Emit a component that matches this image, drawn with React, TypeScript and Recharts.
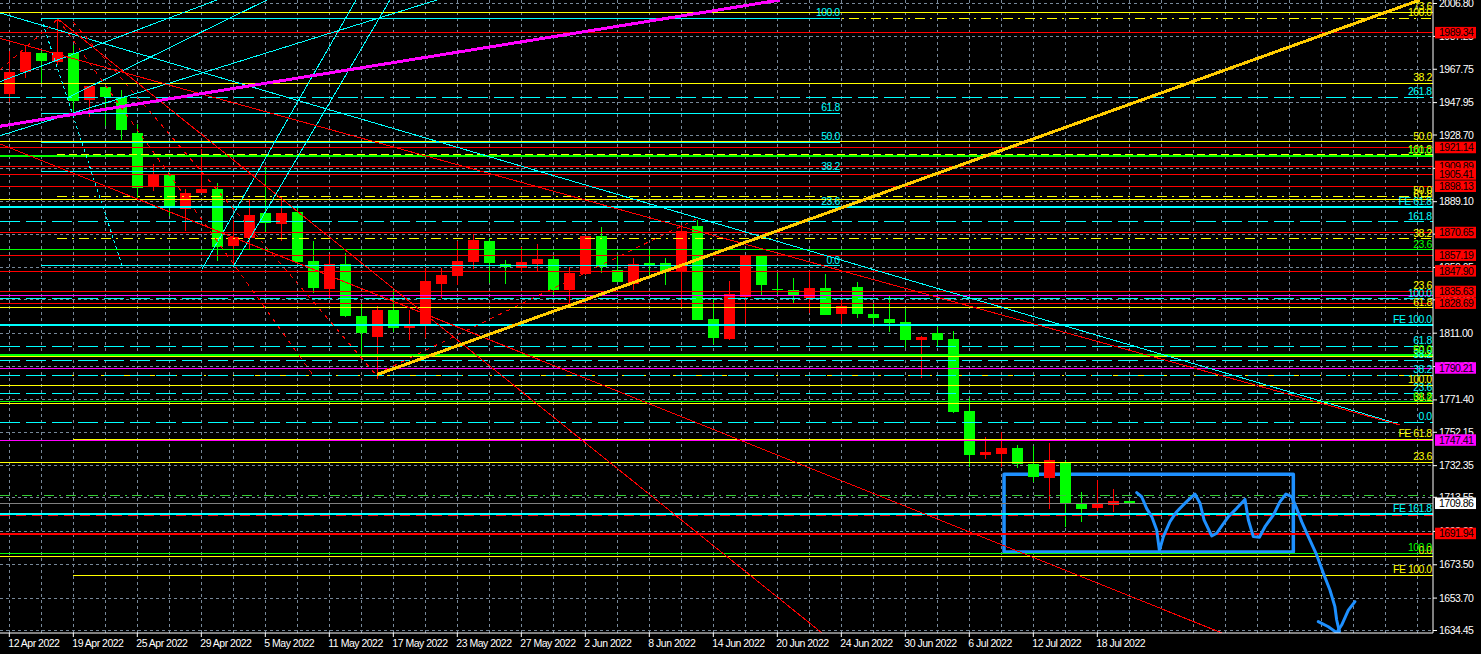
import {
  Bar,
  CartesianGrid,
  ComposedChart,
  Line,
  ReferenceArea,
  ReferenceDot,
  ReferenceLine,
  XAxis,
  YAxis,
} from "recharts";

const CHART_W = 1481;
const CHART_H = 654;
const FONT = "'Liberation Sans', sans-serif";
const FONT_SIZE = 10.5;
const TRACKING = -0.5;

const RED = "#ff0000";
const GREEN = "#00ff00";
const CYAN = "#00ffff";
const YELLOW = "#ffff00";
const MAGENTA = "#ff00ff";
const BLUE = "#1e90ff";
const GOLD = "#ffcc00";
const GRID = "#778899";

// candles, newest last
const opens = [
  1953.1, 1966.3, 1977.4, 1972.2, 1977.4, 1949.5, 1957.2, 1951.1, 1929.9, 1897.8, 1904.9, 1884.8,
  1894.3, 1896.6, 1862.8, 1867.4, 1882.4, 1875.9, 1883.0, 1853.9, 1837.3, 1852.1, 1821.2, 1808.5,
  1824.8, 1814.1, 1816.5, 1840.2, 1845.0, 1853.3, 1865.8, 1852.1, 1849.7, 1852.1, 1855.1, 1836.7,
  1846.2, 1868.7, 1848.5, 1840.2, 1852.4, 1852.7, 1847.3, 1874.7, 1819.4, 1807.6, 1832.5, 1856.8,
  1837.3, 1836.7, 1831.9, 1837.8, 1822.4, 1838.4, 1822.4, 1819.4, 1817.7, 1807.0, 1811.1, 1807.6,
  1764.8, 1738.7, 1739.3, 1742.8, 1733.3, 1725.0, 1733.9, 1710.2, 1707.2, 1709.0, 1711.3,
];
const closes = [
  1966.1, 1978.0, 1972.7, 1978.0, 1948.9, 1957.8, 1951.1, 1931.7, 1897.2, 1905.4, 1886.5, 1894.3,
  1896.6, 1862.2, 1868.1, 1881.2, 1876.5, 1882.4, 1853.3, 1837.8, 1852.1, 1821.2, 1811.1, 1824.8,
  1814.1, 1815.3, 1842.0, 1845.6, 1853.9, 1866.4, 1852.7, 1850.1, 1853.3, 1855.1, 1836.7, 1846.8,
  1868.7, 1850.1, 1841.4, 1852.1, 1851.8, 1847.5, 1871.7, 1818.8, 1808.2, 1834.3, 1857.2, 1839.6,
  1836.7, 1833.7, 1837.8, 1821.8, 1827.2, 1822.4, 1820.0, 1817.1, 1807.0, 1808.8, 1807.0, 1764.2,
  1738.7, 1740.5, 1742.8, 1733.3, 1725.6, 1735.7, 1709.6, 1706.6, 1709.6, 1711.3, 1709.6,
];
const highs = [
  1978.6, 1982.0, 1978.6, 1997.6, 1982.2, 1957.8, 1957.2, 1955.4, 1935.2, 1911.5, 1906.1, 1896.6,
  1920.4, 1900.2, 1878.2, 1890.1, 1909.7, 1891.9, 1885.4, 1865.8, 1858.0, 1858.6, 1828.3, 1827.2,
  1836.7, 1824.8, 1849.7, 1849.7, 1865.8, 1869.9, 1867.5, 1854.5, 1862.2, 1864.0, 1856.8, 1850.3,
  1868.7, 1874.1, 1858.0, 1855.7, 1860.4, 1855.7, 1875.3, 1878.2, 1831.9, 1842.0, 1857.4, 1856.8,
  1846.8, 1843.8, 1847.3, 1846.2, 1830.7, 1841.4, 1828.9, 1833.1, 1825.4, 1809.3, 1814.7, 1812.3,
  1772.5, 1749.4, 1752.3, 1744.6, 1744.0, 1745.8, 1735.7, 1716.7, 1723.8, 1718.5, 1711.3,
];
const lows = [
  1948.5, 1962.6, 1959.4, 1970.3, 1941.8, 1939.4, 1934.1, 1925.7, 1890.7, 1895.4, 1880.6, 1871.7,
  1894.3, 1853.9, 1849.7, 1861.0, 1871.1, 1865.8, 1852.7, 1834.9, 1831.9, 1820.6, 1795.1, 1783.8,
  1811.7, 1807.0, 1808.2, 1831.9, 1839.6, 1849.1, 1840.8, 1840.2, 1847.3, 1847.3, 1833.7, 1827.8,
  1845.6, 1846.8, 1841.4, 1836.7, 1844.4, 1839.6, 1826.0, 1818.8, 1804.6, 1807.0, 1816.5, 1833.7,
  1834.3, 1828.9, 1823.0, 1821.8, 1816.5, 1820.0, 1816.5, 1811.7, 1802.2, 1784.4, 1802.8, 1763.6,
  1731.5, 1736.3, 1731.5, 1730.9, 1722.6, 1706.6, 1695.9, 1698.9, 1705.4, 1704.8, 1709.6,
];

const candles = opens.map((open, i) => ({
  i,
  open,
  close: closes[i],
  range: [lows[i], highs[i]],
}));

// axes
const priceTicks = [
  2006.8, 1987.25, 1967.75, 1947.95, 1928.7, 1908.9, 1889.1, 1869.85, 1850.05, 1830.8, 1811.0,
  1791.2, 1771.4, 1752.15, 1732.35, 1713.55, 1693.3, 1673.5, 1653.7, 1634.45,
];
const dateLabels = [
  "12 Apr 2022", "19 Apr 2022", "25 Apr 2022", "29 Apr 2022", "5 May 2022", "11 May 2022",
  "17 May 2022", "23 May 2022", "27 May 2022", "2 Jun 2022", "8 Jun 2022", "14 Jun 2022",
  "20 Jun 2022", "24 Jun 2022", "30 Jun 2022", "6 Jul 2022", "12 Jul 2022", "18 Jul 2022",
];
const dateTicks = [0, 4, 8, 12, 16, 20, 24, 28, 32, 36, 40, 44, 48, 52, 56, 60, 64, 68];
const gridBars = [
  0, 2, 4, 6, 8, 10, 12, 14, 16, 18, 20, 22, 24, 26, 28, 30, 32, 34, 36, 38, 40, 42, 44, 46, 48,
  50, 52, 54, 56, 58, 60, 62, 64, 66, 68, 70, 72, 74, 76, 78, 80, 82, 84, 86, 88,
];

// price tags on the axis
const redTags = [
  1989.34, 1921.14, 1909.89, 1905.41, 1898.13, 1870.65, 1857.19, 1847.9, 1835.63, 1828.69, 1691.94,
];
const magentaTags = [1790.21, 1747.41];
const currentPrice = 1709.86;

// horizontal levels
const redLevels = [1989.34, 1921.14, 1909.89, 1905.41, 1898.13, 1870.65, 1857.19, 1847.9, 1835.63, 1828.69];
const redHeavyLevels = [1691.94];
const redDashedLevels = [1702.8];
const yellowLevels = [2001.6, 1959.3, 1924.8, 1890.4, 1826.0, 1797.3, 1780.0, 1769.4, 1734.3, 1678.5];
const yellowDashedLevels = [1998.0, 1892.2, 1867.2, 1835.8, 1786.0];
const yellowHeavyDashedLevels = [1917.1];
const yellowLateLevels = [1747.9, 1667.2];
const magentaLevels = [1833.4, 1790.21, 1747.41];
const cyanHeavyLevels = [1885.95, 1815.9, 1703.6];
const cyanDashedLevels = [1951.0, 1877.3, 1831.6, 1803.2, 1794.8, 1786.0, 1775.3, 1758.1];
const cyanShortLevels = [1998.0, 1941.5, 1924.5, 1906.9, 1851.2];
const limeLevels = [1916.2, 1798.2];
const greenLevels = [1860.7, 1770.3, 1680.3];
const greenDashedLevels = [1714.8];

// level captions: [price, text]
const yellowCaptions: [number, string][] = [
  [2001.6, "73.6"], [1998.0, "100.0"], [1959.3, "38.2"], [1924.8, "50.0"], [1917.1, "161.8"],
  [1892.2, "50.0"], [1890.4, "61.8"], [1867.2, "38.2"], [1835.8, "23.6"], [1826.0, "61.8"],
  [1797.3, "50.0"], [1780.0, "100.0"], [1769.4, "38.2"], [1747.9, "FE 61.8"], [1734.3, "23.6"],
  [1678.5, "0.0"], [1667.2, "FE 100.0"],
];
const cyanCaptions: [number, string][] = [
  [1951.0, "261.8"], [1885.95, "FE 61.8"], [1877.3, "161.8"], [1831.6, "100.0"],
  [1815.9, "FE 100.0"], [1803.2, "61.8"], [1794.8, "38.2"], [1786.0, "38.2"], [1775.3, "23.6"],
  [1758.1, "0.0"], [1703.6, "FE 161.8"],
];
const greenCaptions: [number, string][] = [
  [1916.2, "100.0"], [1860.7, "23.6"], [1798.2, "50.0"], [1770.3, "61.8"], [1680.3, "100.0"],
];
const midCaptions: [number, string][] = [
  [1998.0, "100.0"], [1941.5, "61.8"], [1924.5, "50.0"], [1906.9, "38.2"], [1885.95, "23.6"], [1851.2, "0.0"],
];

// trend lines: bar index and price at both ends
type Seg = [number, number, number, number];
const cyanTrends: Seg[] = [
  [-0.583, 2001.2, 86.42, 1758.3],
  [-0.583, 1960.4, 12.98, 2008.9],
  [3.6, 1950.7, 16.1, 2008.9],
  [-0.583, 1928.3, 26.73, 2008.9],
  [12.04, 1849.1, 21.67, 2008.9],
  [13.98, 1850.3, 23.79, 2008.9],
];
const cyanDotted: Seg[] = [[1.98, 1998.2, 7.04, 1851.5]];
const redTrends: Seg[] = [
  [-0.583, 1986.1, 86.92, 1756.5],
  [-0.583, 1923.4, 75.79, 1633.0],
  [3.04, 1997.6, 50.79, 1633.0],
];
const redDotted: Seg[] = [
  [3.04, 1997.6, 18.98, 1786.2],
  [3.98, 1995.8, 22.98, 1785.6],
  [-0.583, 1967.3, 3.04, 1997.6],
  [22.98, 1786.8, 43.04, 1879.4],
];
const magentaTrend: Seg = [-0.583, 1933.9, 48.17, 2008.9];
const goldTrend: Seg = [22.98, 1786.4, 88.17, 2008.9];

// hand drawn scribble
const scribble = [
  [70.46, 1716.3], [70.77, 1713.9], [71.08, 1707.0], [71.4, 1702.1], [71.71, 1694.1], [71.88, 1681.9],
  [72.13, 1690.2], [72.54, 1699.1], [72.96, 1705.0], [73.58, 1711.0], [74.1, 1715.5], [74.42, 1710.0],
  [74.67, 1700.1], [75.15, 1690.6], [75.46, 1692.2], [76.19, 1702.1], [76.71, 1707.0], [77.23, 1712.3],
  [77.44, 1700.1], [77.75, 1690.2], [78.13, 1689.8], [78.48, 1696.1], [79.0, 1703.0], [79.42, 1711.0],
  [79.79, 1715.5], [80.15, 1713.9], [80.46, 1707.0], [80.77, 1699.1], [81.19, 1690.2], [81.71, 1679.3],
  [82.13, 1668.4], [82.54, 1658.5], [82.85, 1648.6], [82.96, 1640.7], [83.13, 1633.8],
].map(([i, p]) => ({ i, p }));
const arrowHead = [
  [81.81, 1639.7], [82.44, 1636.7], [82.96, 1633.2], [83.27, 1637.7], [83.69, 1646.6], [84.1, 1651.6],
].map(([i, p]) => ({ i, p }));
const boxBars = [62.17, 80.25];
const boxPrices = [1681.1, 1727.2];

const X_DOMAIN: [number, number] = [-0.583, 88.98];
const Y_DOMAIN: [number, number] = [1632.97, 2008.88];
const CAPTION_RIGHT = 88.9;
const CAPTION_MID = 51.9;
const LATE_START = 4;
const DASH_START = 3;
const SHORT_START = 2;

const Candle = (props: any) => {
  const { x, y, width, height, payload } = props;
  const [low, high] = payload.range;
  const up = payload.close >= payload.open;
  const color = up ? RED : GREEN;
  const cx = Math.round(x + width / 2);
  const toY = (v: number) => y + ((high - v) / (high - low)) * height;
  const top = toY(Math.max(payload.open, payload.close));
  const bottom = toY(Math.min(payload.open, payload.close));
  return (
    <g shapeRendering="crispEdges">
      <line x1={cx + 0.5} x2={cx + 0.5} y1={y} y2={y + height} stroke={color} />
      <rect x={cx - 5} y={top} width={11} height={Math.max(bottom - top, 1)} fill={color} />
    </g>
  );
};

const PriceTick = (props: any) => {
  const { y, payload } = props;
  const v = payload.value;
  const isRed = redTags.includes(v);
  const isMagenta = magentaTags.includes(v);
  const isCurrent = v === currentPrice;
  if (isRed || isMagenta || isCurrent) {
    const bg = isRed ? RED : isMagenta ? MAGENTA : "#ffffff";
    return (
      <g>
        <rect x={1435} y={y - 6} width={41} height={11.5} fill={bg} />
        <text x={1439} y={y + 3.5} fontSize={FONT_SIZE} letterSpacing={TRACKING} fontFamily={FONT} fill="#000000">
          {v.toFixed(2)}
        </text>
      </g>
    );
  }
  return (
    <g>
      <line x1={1433} x2={1437} y1={y} y2={y} stroke="#ffffff" />
      <text x={1439} y={y + 3.5} fontSize={FONT_SIZE} letterSpacing={TRACKING} fontFamily={FONT} fill="#ffffff">
        {v.toFixed(2)}
      </text>
    </g>
  );
};

const DateTick = (props: any) => {
  const { x, payload } = props;
  return (
    <g>
      <line x1={x} x2={x} y1={633} y2={637} stroke="#ffffff" />
      <text x={x - 1} y={647} fontSize={FONT_SIZE} letterSpacing={TRACKING} fontFamily={FONT} fill="#ffffff">
        {dateLabels[dateTicks.indexOf(payload.value)]}
      </text>
    </g>
  );
};

const hLines = (levels: number[], stroke: string, width = 1, dash?: string, start?: number, end?: number) =>
  levels.map((p) => (
    <ReferenceLine
      key={`${stroke}-${p}-${width}-${start}`}
      segment={[
        { x: start ?? X_DOMAIN[0], y: p },
        { x: end ?? X_DOMAIN[1], y: p },
      ]}
      stroke={stroke}
      strokeWidth={width}
      strokeDasharray={dash}
      shapeRendering="crispEdges"
      ifOverflow="hidden"
    />
  ));

const trends = (segs: Seg[], stroke: string, width = 1, dash?: string) =>
  segs.map(([x1, y1, x2, y2]) => (
    <ReferenceLine
      key={`${stroke}-${x1}-${y1}-${x2}`}
      segment={[
        { x: x1, y: y1 },
        { x: x2, y: y2 },
      ]}
      stroke={stroke}
      strokeWidth={width}
      strokeDasharray={dash}
      shapeRendering="crispEdges"
      ifOverflow="hidden"
    />
  ));

const captions = (items: [number, string][], fill: string, at: number) =>
  items.map(([p, text]) => (
    <ReferenceDot
      key={`${fill}-${at}-${p}-${text}`}
      x={at}
      y={p}
      r={0}
      ifOverflow="visible"
      shape={(s: any) => (
        <text x={s.cx} y={s.cy - 2} textAnchor="end" fontSize={FONT_SIZE} letterSpacing={TRACKING} fontFamily={FONT} fill={fill}>
          {text}
        </text>
      )}
    />
  ));

export default function App() {
  return (
    <div style={{ position: "absolute", left: 0, top: 0, width: CHART_W, height: CHART_H, background: "#000000" }}>
      <ComposedChart
        width={CHART_W}
        height={CHART_H}
        data={candles}
        margin={{ top: 0, right: 0, bottom: 0, left: 0 }}
      >
        <CartesianGrid
          stroke={GRID}
          strokeDasharray="3 3"
          horizontalValues={priceTicks}
          verticalValues={gridBars}
          shapeRendering="crispEdges"
        />
        <XAxis
          dataKey="i"
          type="number"
          domain={X_DOMAIN}
          allowDataOverflow
          ticks={dateTicks}
          interval={0}
          height={21}
          axisLine={{ stroke: "#ffffff" }}
          tickLine={false}
          tick={<DateTick />}
        />
        <YAxis
          orientation="right"
          type="number"
          domain={Y_DOMAIN}
          allowDataOverflow
          ticks={[...priceTicks, ...redTags, ...magentaTags, currentPrice]}
          interval={0}
          width={48}
          axisLine={{ stroke: "#ffffff" }}
          tickLine={false}
          tick={<PriceTick />}
        />
        <Bar dataKey="range" barSize={11} shape={<Candle />} isAnimationActive={false} />

        {hLines(yellowLevels, YELLOW)}
        {hLines(yellowDashedLevels, YELLOW, 1, "10 5 2 5", DASH_START)}
        {hLines(yellowHeavyDashedLevels, YELLOW, 2, "8 4", DASH_START)}
        {hLines(yellowLateLevels, YELLOW, 1, undefined, LATE_START)}
        {hLines(cyanDashedLevels, CYAN, 1, "20 6")}
        {hLines(cyanShortLevels, CYAN, 1, undefined, SHORT_START, CAPTION_MID)}
        {hLines(cyanHeavyLevels, CYAN, 2)}
        {hLines(redLevels, RED)}
        {hLines(redHeavyLevels, RED, 2)}
        {hLines(redDashedLevels, RED, 1, "10 6")}
        {hLines(magentaLevels, MAGENTA)}
        {hLines(limeLevels, GREEN, 2)}
        {hLines(greenLevels, GREEN)}
        {hLines(greenDashedLevels, "#33cc33", 1, "10 5 2 5")}
        {hLines([currentPrice], "#808080")}

        {trends(cyanTrends, CYAN)}
        {trends(cyanDotted, CYAN, 1, "3 3")}
        {trends(redTrends, RED)}
        {trends(redDotted, RED, 1, "4 5")}
        {trends([magentaTrend], MAGENTA, 3)}
        {trends([goldTrend], GOLD, 3)}

        {captions(yellowCaptions, YELLOW, CAPTION_RIGHT)}
        {captions(cyanCaptions, CYAN, CAPTION_RIGHT)}
        {captions(greenCaptions, GREEN, CAPTION_RIGHT)}
        {captions(midCaptions, CYAN, CAPTION_MID)}

        <ReferenceArea
          x1={boxBars[0]}
          x2={boxBars[1]}
          y1={boxPrices[0]}
          y2={boxPrices[1]}
          fill="none"
          stroke={BLUE}
          strokeWidth={3.5}
          strokeLinejoin="round"
          ifOverflow="visible"
        />
        <Line data={scribble} dataKey="p" stroke={BLUE} strokeWidth={3} strokeLinecap="round" strokeLinejoin="round" dot={false} activeDot={false} isAnimationActive={false} />
        <Line data={arrowHead} dataKey="p" stroke={BLUE} strokeWidth={3} strokeLinecap="round" strokeLinejoin="round" dot={false} activeDot={false} isAnimationActive={false} />
      </ComposedChart>
    </div>
  );
}
